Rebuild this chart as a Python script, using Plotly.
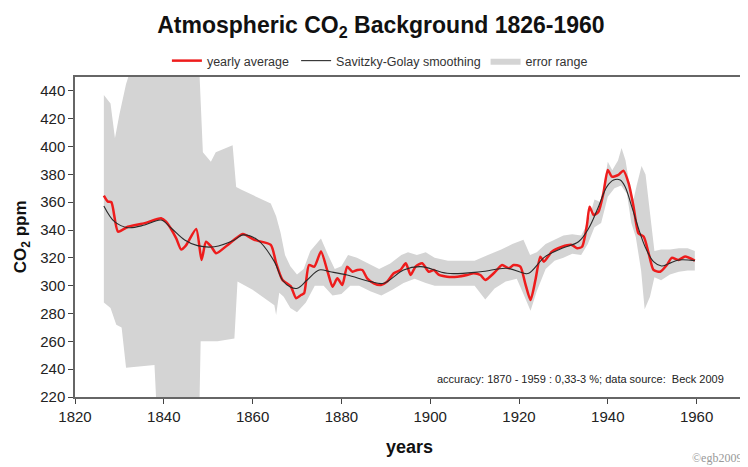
import plotly.graph_objects as go

# ---- data ----
years_avg = [1826.5, 1827.4, 1828.2, 1829.7, 1831.9, 1835.7, 1839.4, 1840.5, 1842.8, 1843.9,
             1845.0, 1847.3, 1848.5, 1849.5, 1850.7, 1851.8, 1854.4, 1857.8, 1860.4, 1864.1,
             1865.3, 1866.7, 1868.6, 1869.8, 1870.9, 1871.6, 1872.7, 1873.9, 1875.4, 1876.9,
             1878.0, 1879.1, 1880.2, 1881.3, 1882.5, 1883.6, 1884.7, 1885.8, 1887.3, 1888.9,
             1890.3, 1891.8, 1893.3, 1894.5, 1895.6, 1896.7, 1898.2, 1899.7, 1900.8, 1902.0,
             1903.8, 1906.1, 1908.3, 1909.8, 1911.3, 1912.4, 1914.3, 1916.2, 1917.7, 1918.8,
             1920.3, 1921.4, 1922.6, 1923.7, 1924.8, 1925.6, 1927.4, 1929.7, 1931.9, 1933.1,
             1934.2, 1935.3, 1935.9, 1936.8, 1937.9, 1939.0, 1940.0, 1940.9, 1942.4, 1943.5,
             1944.7, 1945.8, 1946.9, 1948.1, 1949.2, 1950.3, 1951.8, 1953.3, 1954.4, 1955.9,
             1957.4, 1959.6]
co2_avg = [364.7, 360.4, 360.0, 338.8, 342.4, 345.0, 348.5, 346.0, 334.0, 326.0,
           329.0, 340.8, 318.5, 331.6, 328.0, 323.3, 329.3, 337.2, 332.9, 329.3,
           316.2, 304.3, 299.5, 291.0, 293.3, 294.5, 314.9, 313.7, 324.5, 310.0,
           299.3, 305.3, 300.5, 313.7, 310.0, 311.3, 311.3, 305.3, 301.7, 300.5,
           302.9, 308.9, 311.3, 316.1, 307.7, 313.7, 316.1, 310.0, 311.3, 307.7,
           306.5, 306.5, 307.7, 308.9, 307.7, 304.1, 308.9, 314.9, 312.5, 314.9,
           313.7, 301.7, 289.7, 304.1, 320.9, 317.3, 324.5, 328.0, 329.3, 326.9,
           328.0, 343.6, 356.8, 350.8, 353.2, 366.4, 383.2, 378.4, 379.6, 382.7,
           373.6, 356.8, 337.7, 335.2, 323.3, 311.3, 310.0, 314.9, 320.0, 318.5,
           320.9, 318.0]

years_sg = [1826.5, 1828.9, 1831.9, 1835.7, 1839.4, 1841.7, 1844.7, 1847.6, 1851.4, 1855.9,
            1857.8, 1861.1, 1864.9, 1866.7, 1868.5, 1870.1, 1872.3, 1875.0, 1877.5, 1881.3,
            1886.6, 1889.5, 1894.0, 1897.9, 1903.8, 1911.3, 1917.3, 1921.1, 1922.2, 1925.9,
            1929.7, 1933.4, 1935.7, 1937.9, 1939.8, 1941.3, 1942.8, 1943.9, 1945.4, 1946.9,
            1948.4, 1950.3, 1952.1, 1953.7, 1956.0, 1959.6]
co2_sg = [357.3, 346.0, 341.7, 343.6, 347.2, 341.3, 332.9, 328.8, 328.0, 332.9,
          336.5, 332.9, 317.3, 304.1, 299.0, 298.1, 304.1, 311.3, 310.0, 307.7,
          302.9, 301.7, 311.3, 313.7, 308.9, 310.0, 312.5, 308.9, 308.9, 320.9,
          326.9, 331.6, 341.3, 356.8, 371.2, 376.0, 376.0, 371.2, 356.8, 341.3,
          328.0, 317.3, 314.2, 315.8, 318.5, 318.0]

years_upper = [1826.5, 1828.0, 1829.0, 1830.0, 1831.5, 1832.5, 1848.0, 1848.8, 1850.6, 1851.7,
               1855.5, 1856.3, 1857.5, 1864.1, 1865.3, 1866.3, 1867.3, 1868.5, 1870.0, 1871.5,
               1873.0, 1875.4, 1877.0, 1878.5, 1880.0, 1881.5, 1883.5, 1886.0, 1888.5, 1891.0,
               1893.5, 1895.0, 1897.0, 1899.0, 1901.0, 1904.0, 1907.0, 1910.0, 1913.0, 1916.0,
               1918.5, 1921.0, 1922.5, 1924.0, 1926.0, 1928.0, 1930.0, 1932.0, 1934.0, 1935.5,
               1937.0, 1938.5, 1940.0, 1941.0, 1942.3, 1943.1, 1944.0, 1945.0, 1945.8, 1946.5,
               1947.6, 1948.5, 1949.5, 1950.5, 1952.0, 1954.0, 1956.0, 1958.0, 1959.6]
co2_upper = [437, 431, 406, 423, 445, 455, 455, 396, 389, 396,
             401, 371, 369, 359, 350, 338, 322, 314, 308, 312,
             325, 334, 322, 312, 314, 322, 320, 316, 312, 316,
             322, 324, 322, 324, 320, 318, 318, 318, 322, 326,
             330, 333, 322, 324, 330, 333, 336, 337, 336, 345,
             362, 360, 389, 383, 390, 399, 390, 370, 362, 372,
             386, 380, 350, 325, 326, 326, 327, 327, 325]

years_lower = [1826.5, 1828.0, 1829.3, 1830.5, 1831.5, 1837.9, 1838.4, 1848.0, 1848.3, 1852.1,
               1855.9, 1856.6, 1860.0, 1864.9, 1865.3, 1866.0, 1867.0, 1868.5, 1870.0, 1872.0,
               1874.0, 1876.0, 1878.0, 1880.0, 1882.0, 1884.0, 1886.5, 1889.0, 1891.5, 1894.0,
               1896.5, 1899.0, 1901.0, 1904.0, 1907.0, 1910.0, 1912.4, 1914.5, 1917.0, 1919.5,
               1921.0, 1922.6, 1924.0, 1926.0, 1928.0, 1930.0, 1932.0, 1934.0, 1935.5, 1937.0,
               1938.5, 1940.0, 1941.5, 1943.0, 1944.3, 1945.3, 1946.3, 1947.5, 1948.3, 1949.5,
               1950.5, 1952.0, 1954.0, 1956.0, 1958.0, 1959.6]
co2_lower = [288, 284, 272, 270, 241, 243, 210, 210, 260, 260,
             262, 303, 297, 286, 279, 295, 292, 284, 281, 288,
             300, 300, 293, 294, 300, 300, 296, 293, 297, 302,
             305, 302, 300, 300, 300, 300, 290, 298, 303, 305,
             294, 282, 296, 312, 318, 320, 323, 322, 330, 342,
             345, 364, 370, 372, 366, 345, 335, 311, 283, 292,
             306, 304, 308, 310, 311, 311]

x_ticks = [1820, 1840, 1860, 1880, 1900, 1920, 1940, 1960]
y_ticks = [220, 240, 260, 280, 300, 320, 340, 360, 380, 400, 420, 440]

FONT = "Liberation Sans, Arial, sans-serif"

fig = go.Figure()

# error range as a closed polygon
fig.add_trace(go.Scatter(
    x=years_upper + years_lower[::-1],
    y=co2_upper + co2_lower[::-1],
    fill="toself", fillcolor="#d4d4d4", mode="lines",
    line=dict(width=0, color="#d4d4d4"),
    name="error range", legend="legend3", hoverinfo="skip"))

fig.add_trace(go.Scatter(
    x=years_avg, y=co2_avg, mode="lines",
    line=dict(color="#ee1c1c", width=2.5, shape="spline", smoothing=0.6),
    name="yearly average", legend="legend"))

fig.add_trace(go.Scatter(
    x=years_sg, y=co2_sg, mode="lines",
    line=dict(color="#2a2a2a", width=1.1, shape="spline", smoothing=1.0),
    name="Savitzky-Golay smoothing", legend="legend2"))

leg_common = dict(orientation="h", y=1.05, yanchor="middle", xanchor="left",
                  font=dict(size=12.5, color="#333", family=FONT),
                  bgcolor="rgba(0,0,0,0)", itemwidth=30)

fig.update_layout(
    width=740, height=459,
    margin=dict(l=67, r=5, t=69, b=70),
    paper_bgcolor="white", plot_bgcolor="white",
    font=dict(family=FONT, color="#222"),
    title=dict(text="<b>Atmospheric CO<sub>2</sub> Background 1826-1960</b>",
               x=0.504, xanchor="center", y=0.963, yanchor="middle", yref="container",
               font=dict(size=23, color="#111", family=FONT)),
    showlegend=True,
    legend=dict(x=0.138, **leg_common),
    legend2=dict(x=0.332, **leg_common),
    legend3=dict(x=0.6165, **leg_common),
)

fig.update_xaxes(range=[1820, 1970], tickvals=x_ticks, ticks="outside", ticklen=5,
                 tickcolor="#444", showline=True, linecolor="#666", linewidth=1.5,
                 mirror=True, showgrid=False, zeroline=False,
                 tickfont=dict(size=15, color="#222", family=FONT))
fig.update_yaxes(range=[220, 450], tickvals=y_ticks, ticks="outside", ticklen=5,
                 tickcolor="#444", showline=True, linecolor="#666", linewidth=1.5,
                 mirror=True, showgrid=False, zeroline=False,
                 tickfont=dict(size=15, color="#222", family=FONT))

fig.add_annotation(text="<b>CO<sub>2</sub> ppm</b>", xref="paper", yref="paper",
                   x=-0.0793, y=0.5, xanchor="center", yanchor="middle",
                   textangle=-90, showarrow=False,
                   font=dict(size=17, color="#111", family=FONT))
fig.add_annotation(text="<b>years</b>", xref="paper", yref="paper",
                   x=0.503, y=-0.156, xanchor="center", yanchor="middle", showarrow=False,
                   font=dict(size=18, color="#111", family=FONT))
fig.add_annotation(text="accuracy: 1870 - 1959 : 0,33-3 %; data source:  Beck 2009",
                   xref="paper", yref="paper", x=0.9775, y=0.056, xanchor="right",
                   yanchor="middle", showarrow=False,
                   font=dict(size=11, color="#222", family=FONT))
fig.add_annotation(text="©egb2009", xref="paper", yref="paper", x=1.004, y=-0.19,
                   xanchor="right", yanchor="middle", showarrow=False,
                   font=dict(size=12, color="#999", family="Liberation Serif, serif"))

fig.write_html("out.html")
